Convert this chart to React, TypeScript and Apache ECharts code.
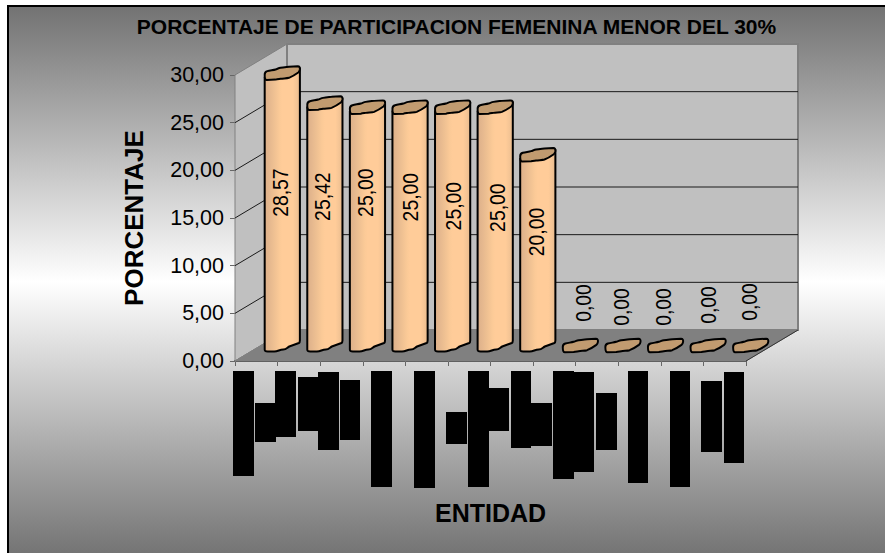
import React, { useEffect, useRef } from "react";
import * as echarts from "echarts";

const titleText = "PORCENTAJE DE PARTICIPACION FEMENINA MENOR DEL 30%";
const yAxisName = "PORCENTAJE";
const xAxisName = "ENTIDAD";
const categories = ["1", "2", "3", "4", "5", "6", "7", "8", "9", "10", "11", "12"];
const values = [28.57, 25.42, 25, 25, 25, 25, 20, 0, 0, 0, 0, 0];
const yTicks = [5, 10, 15, 20, 25];

const labelNudgeX = [23.7, 23.1, 23.5, 26, 26.1, 27.5, 23.9, 28.6, 24, 23.5, 25.6, 24.3];
const labelNudgeY = [104, 78, 70, 74.5, 83.5, 85, 61.7, -58, -54, -54, -56, -59];

// Redaction blocks that cover the category labels: x0, x1, y0, y1 in page pixels
const redactions = [
  [233, 254, 371, 476], [255, 276, 403, 442], [275, 296, 371, 437], [298, 318, 377, 431],
  [318, 339, 372, 450], [340, 360, 380, 440], [371, 392, 371, 487], [414, 435, 371, 488],
  [446, 467, 412, 444], [468, 489, 371, 487], [489, 509, 388, 431], [511, 531, 371, 448],
  [531, 552, 403, 446], [553, 574, 371, 479], [574, 594, 372, 472], [596, 617, 393, 450],
  [628, 648, 371, 483], [670, 690, 371, 487], [701, 722, 381, 452], [724, 744, 372, 463],
];

const DX = 52;
const DY = -31;
const font = "Liberation Sans, Arial, sans-serif";

const topBlob =
  "M-17.6 1.5C-17.6 -0.5 -16.5 -1.6 -15 -2C-12 -2.8 -9 -3 -6.7 -3.7C-5 -4.2 -3.5 -5 -1.7 -5.3C1 -5.8 4 -6 6.7 -6.3L15.5 -6.8C17.4 -6.8 17.8 -5.4 17.6 -3.7C17.4 -2.4 17 -1.4 16 -0.6C13 1.6 10 3.4 6.7 4.7C4.5 5.4 1 5.2 -1.7 5.7C-3.5 6 -5 6.3 -6.7 6.5L-15.6 6.8C-17.4 6.8 -17.6 5 -17.6 1.5Z";

const bodyGradient = {
  type: "linear", x: 0, y: 0, x2: 1, y2: 0,
  colorStops: [
    { offset: 0, color: "#DDB089" }, { offset: 0.12, color: "#E4B78E" },
    { offset: 0.26, color: "#EEC092" }, { offset: 0.42, color: "#FBCA97" },
    { offset: 0.5, color: "#FFCC99" }, { offset: 0.8, color: "#FFCC99" },
    { offset: 0.9, color: "#F5C595" }, { offset: 1, color: "#E8BA8B" },
  ],
};

function renderWalls(params: any, api: any) {
  const g = params.coordSys;
  const x0 = g.x, x1 = g.x + g.width;
  const yAt = (v: number) => api.coord([0, v])[1];
  const top = yAt(30), bot = yAt(0);
  const children: any[] = [
    { type: "polygon", shape: { points: [[x0, top], [x0 + DX, top + DY], [x0 + DX, bot + DY], [x0, bot]] }, style: { fill: "#C0C0C0", stroke: "#808080", lineWidth: 1 } },
    { type: "rect", shape: { x: x0 + DX, y: top + DY, width: g.width, height: bot - top }, style: { fill: "#C0C0C0", stroke: "#808080", lineWidth: 2 } },
    { type: "polygon", shape: { points: [[x0, bot], [x0 + DX, bot + DY], [x1 + DX, bot + DY], [x1, bot]] }, style: { fill: "#808080", stroke: "#808080", lineWidth: 1 } },
    { type: "line", shape: { x1: x1, y1: bot, x2: x1 + DX, y2: bot + DY }, style: { stroke: "#333333", lineWidth: 1 } },
    { type: "line", shape: { x1: x0, y1: bot, x2: x0 + DX, y2: bot + DY }, style: { stroke: "#808080", lineWidth: 1 } },
  ];
  yTicks.forEach((v) => {
    const y = yAt(v);
    children.push({
      type: "polyline",
      shape: { points: [[x0, y], [x0 + DX, y + DY], [x1 + DX, y + DY]] },
      style: { fill: "none", stroke: "#1a1a1a", lineWidth: 1 },
    });
  });
  return { type: "group", children };
}

function renderBar(params: any, api: any) {
  const i = api.value(0);
  const v = api.value(1);
  const top = api.coord([i, v]);
  const base = api.coord([i, 0]);
  const cx = top[0] + DX / 2;
  const ty = top[1] + DY / 2;
  const by = base[1] + DY / 2;
  const children: any[] = [];
  if (v > 0) {
    const l = cx - 17.6, r = cx + 17.6;
    const d =
      `M${l} ${ty + 4}L${l} ${by + 4}C${l} ${by + 6} ${l + 1} ${by + 6} ${l + 3} ${by + 6}` +
      `L${cx - 8} ${by + 6}C${cx - 4} ${by + 6} ${cx - 3} ${by + 4} ${cx + 1} ${by + 4}` +
      `C${cx + 4} ${by + 4} ${cx + 5} ${by + 2} ${cx + 7} ${by + 1}` +
      `L${r - 1} ${by - 2.5}C${r} ${by - 3} ${r} ${by - 4} ${r} ${by - 5}L${r} ${ty - 5}Z`;
    children.push({
      type: "path",
      shape: { pathData: d, x: l, y: ty - 5, width: 35.2, height: by + 6 - ty + 5 },
      style: { fill: bodyGradient, stroke: "#000000", lineWidth: 2, lineJoin: "round" },
    });
  }
  children.push({
    type: "path",
    shape: { pathData: topBlob, x: cx - 17.6, y: ty - 6.8, width: 35.2, height: 13.6 },
    style: { fill: "#C19B70", stroke: "#000000", lineWidth: 2, lineJoin: "round" },
  });
  children.push({
    type: "text",
    x: top[0] + labelNudgeX[i],
    y: top[1] + labelNudgeY[i],
    rotation: Math.PI / 2,
    scaleX: 0.88,
    style: {
      text: v.toFixed(2).replace(".", ","),
      x: 0, y: 0, align: "center", verticalAlign: "middle",
      fill: "#000000", font: `22px ${font}`,
    },
  });
  return { type: "group", children };
}

export default function App() {
  const ref = useRef<HTMLDivElement>(null);
  useEffect(() => {
    const chart = echarts.init(ref.current!, undefined, { renderer: "svg" });
    chart.setOption({
      animation: false,
      title: {
        text: titleText, left: 451.5, top: 11, textAlign: "center",
        textStyle: { fontFamily: font, fontSize: 21, fontWeight: "bold", color: "#000" },
      },
      grid: { left: 235, top: 75, width: 511, height: 286, containLabel: false },
      graphic: [
        {
          type: "rect", z: -10, silent: true,
          shape: { x: 8, y: 6, width: 890, height: 552 },
          style: {
            stroke: "#000", lineWidth: 2,
            fill: {
              type: "linear", x: 0, y: 0, x2: 0, y2: 1,
              colorStops: [
                { offset: 0, color: "#727272" }, { offset: 0.5, color: "#FFFFFF" }, { offset: 1, color: "#727272" },
              ],
            },
          },
        },
        ...redactions.map(([a, b, c, d]) => ({
          type: "rect", z: 20, silent: true,
          shape: { x: a, y: c, width: b - a, height: d - c },
          style: { fill: "#000" },
        })),
      ],
      xAxis: {
        type: "category", data: categories, boundaryGap: true,
        name: xAxisName, nameLocation: "middle", nameGap: 139,
        nameTextStyle: { fontFamily: font, fontSize: 25, fontWeight: "bold", color: "#000" },
        axisLine: { show: true, lineStyle: { color: "#404040", width: 2 } },
        axisTick: { show: true, alignWithLabel: false, length: 5, lineStyle: { color: "#666" } },
        axisLabel: { show: false },
        splitLine: { show: false },
      },
      yAxis: {
        type: "value", min: 0, max: 30, interval: 5,
        name: yAxisName, nameLocation: "middle", nameGap: 88, nameRotate: 90, nameMoveOverlap: false,
        nameTextStyle: { fontFamily: font, fontSize: 26, fontWeight: "bold", color: "#000" },
        axisLine: { show: true, lineStyle: { color: "#333", width: 1 } },
        axisTick: { show: true, length: 5, lineStyle: { color: "#666" } },
        axisLabel: {
          margin: 11, fontFamily: font, fontSize: 21.5, color: "#000",
          formatter: (v: number) => v.toFixed(2).replace(".", ","),
        },
        splitLine: { show: false },
      },
      series: [
        { type: "custom", z: 1, silent: true, renderItem: renderWalls, data: [[0, 0]], encode: { x: 0, y: 1 }, clip: false },
        { type: "custom", z: 3, silent: true, renderItem: renderBar, data: values.map((v, i) => [i, v]), encode: { x: 0, y: 1 }, clip: false },
      ],
    });
    return () => chart.dispose();
  }, []);
  return <div ref={ref} style={{ position: "absolute", left: 0, top: 0, width: 885, height: 553 }} />;
}
